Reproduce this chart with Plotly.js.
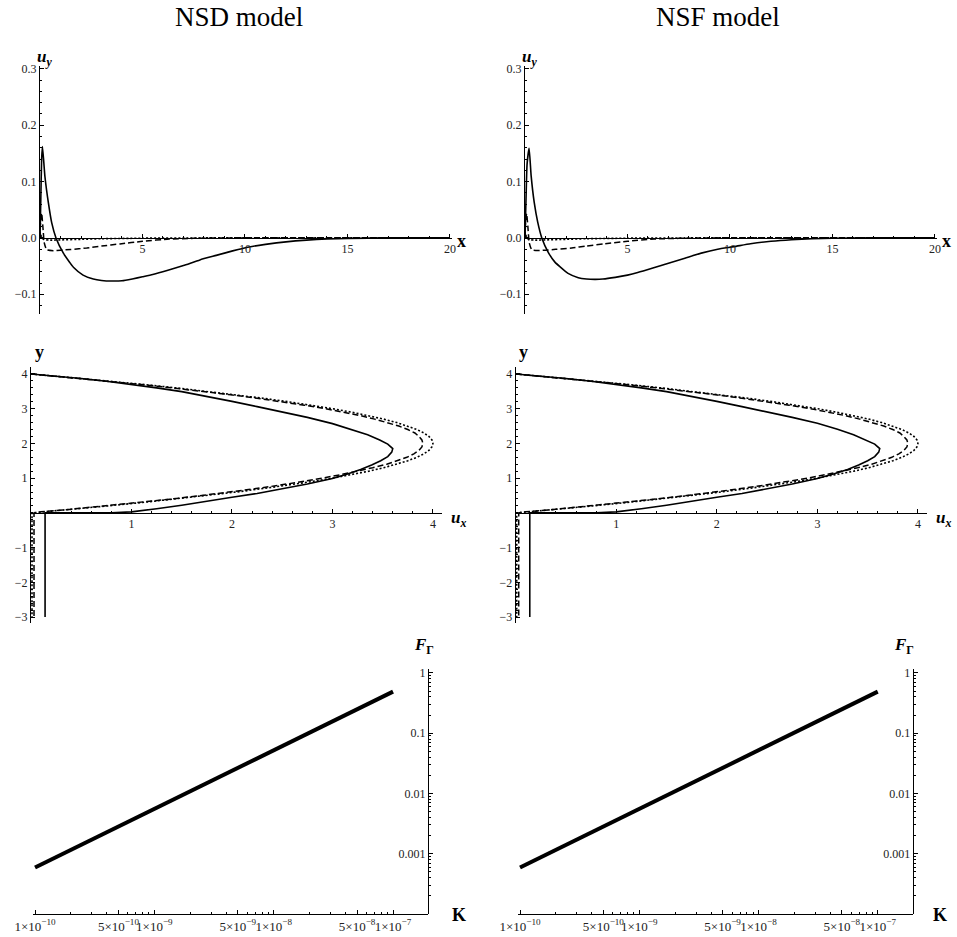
<!DOCTYPE html>
<html>
<head>
<meta charset="utf-8">
<script src="https://cdn.plot.ly/plotly-3.0.1.min.js"></script>
<style>html,body{margin:0;padding:0;background:#fff;}#chart{width:957px;height:937px;}</style>
</head>
<body>
<div id="chart"></div>
<script>
// ---------- DATA ----------
// Row 1: u_y(x)  (NSD left, NSF right)
const nsdUySolidX = [0,0.04,0.08,0.12,0.24,0.41,0.57,0.78,1.14,1.46,1.63,2.1,2.6,3.0,3.5,4.0,4.5,5.0,5.5,6.2,7.0,7.8,8.6,9.4,10.2,11.0,12.0,13.0,14.0,15.0,17.0,20.0];
const nsdUySolidY = [0,0.07,0.14,0.162,0.109,0.062,0.027,0,-0.027,-0.044,-0.052,-0.066,-0.073,-0.0755,-0.0765,-0.076,-0.0728,-0.069,-0.065,-0.058,-0.049,-0.039,-0.031,-0.023,-0.016,-0.0115,-0.007,-0.004,-0.002,-0.001,0,0];
const nsdUyDashX = [0,0.03,0.08,0.14,0.21,0.33,0.65,1.0,1.5,2.28,3.0,3.9,5.0,6.3,7.5,9.0,20.0];
const nsdUyDashY = [0,0.03,0.044,0.02,-0.009,-0.021,-0.0226,-0.0218,-0.0205,-0.018,-0.0145,-0.0107,-0.006,-0.002,-0.0008,0,0];
const nsdUyDotX = [0,0.02,0.05,0.1,0.2,0.5,1,2,3,5,8,20];
const nsdUyDotY = [0,0.006,0.004,0,-0.003,-0.004,-0.0035,-0.0025,-0.0015,-0.0005,0,0];

const nsfUySolidX = [0,0.05,0.1,0.2,0.3,0.45,0.62,0.82,1.14,1.46,1.7,2.1,2.6,3.0,3.4,3.8,4.4,5.0,5.5,6.2,7.0,7.8,8.6,9.4,10.2,11.0,12.0,13.0,14.0,15.0,17.0,20.0];
const nsfUySolidY = [0,0.07,0.13,0.159,0.11,0.063,0.028,0,-0.026,-0.043,-0.051,-0.063,-0.0705,-0.0728,-0.0735,-0.073,-0.070,-0.066,-0.0615,-0.054,-0.045,-0.036,-0.027,-0.020,-0.0155,-0.0105,-0.006,-0.0032,-0.0015,-0.0007,0,0];
const nsfUyDashX = [0,0.03,0.08,0.14,0.21,0.33,0.65,1.0,1.5,2.28,3.0,3.9,5.0,6.3,7.5,9.0,20.0];
const nsfUyDashY = [0,0.03,0.043,0.02,-0.009,-0.021,-0.0225,-0.0217,-0.0203,-0.0178,-0.0143,-0.0105,-0.006,-0.002,-0.0008,0,0];
const nsfUyDotX = [0,0.02,0.05,0.1,0.2,0.5,1,2,3,5,8,20];
const nsfUyDotY = [0,0.006,0.004,0,-0.003,-0.004,-0.0035,-0.0025,-0.0015,-0.0005,0,0];

// Row 2: velocity profile u_x(y)
const nsdUxSolidX = [0,0.25,0.5,0.75,1.0,1.25,1.5,1.75,2.0,2.25,2.5,2.75,3.0,3.2,3.35,3.47,3.55,3.6,3.59,3.55,3.48,3.39,3.28,3.15,3.0,2.75,2.5,2.25,2.0,1.75,1.5,1.25,1.0,0.8,0.5,0.14,0.14];
const nsdUxSolidY = [4.0,3.94,3.87,3.79,3.7,3.6,3.49,3.36,3.21,3.06,2.91,2.75,2.57,2.4,2.25,2.1,1.98,1.85,1.75,1.62,1.5,1.38,1.25,1.12,0.99,0.83,0.69,0.56,0.45,0.33,0.22,0.12,0.03,0.005,0.0,0.0,-3.0];
const nsdUxDashX = [0,0.38,0.74,1.08,1.40,1.71,1.99,2.25,2.50,2.72,2.93,3.11,3.28,3.42,3.55,3.66,3.75,3.82,3.86,3.89,3.90,3.89,3.86,3.81,3.74,3.65,3.54,3.40,3.25,3.08,2.90,2.70,2.48,2.24,1.98,1.70,1.40,1.08,0.74,0.38,0.10,0.03,0.03];
const nsdUxDashY = [4.0,3.9,3.8,3.7,3.6,3.5,3.4,3.3,3.2,3.1,3.0,2.9,2.8,2.7,2.6,2.5,2.4,2.3,2.2,2.1,2.0,1.9,1.8,1.7,1.6,1.5,1.4,1.3,1.2,1.1,1.0,0.9,0.8,0.7,0.6,0.5,0.4,0.3,0.2,0.1,0.03,0.0,-3.0];
const nsdUxDotX = [0,0.39,0.76,1.11,1.44,1.75,2.04,2.31,2.56,2.79,3.0,3.19,3.36,3.51,3.64,3.75,3.84,3.91,3.96,3.99,4.0,3.99,3.96,3.91,3.84,3.75,3.64,3.51,3.36,3.19,3.0,2.79,2.56,2.31,2.04,1.75,1.44,1.11,0.76,0.39,0.1,0.01,0.01];
const nsdUxDotY = [4.0,3.9,3.8,3.7,3.6,3.5,3.4,3.3,3.2,3.1,3.0,2.9,2.8,2.7,2.6,2.5,2.4,2.3,2.2,2.1,2.0,1.9,1.8,1.7,1.6,1.5,1.4,1.3,1.2,1.1,1.0,0.9,0.8,0.7,0.6,0.5,0.4,0.3,0.2,0.1,0.025,0.0,-3.0];

const nsfUxSolidX = [0,0.25,0.5,0.75,1.0,1.25,1.5,1.75,2.0,2.25,2.5,2.75,3.0,3.2,3.36,3.48,3.57,3.62,3.61,3.57,3.5,3.41,3.3,3.16,3.0,2.75,2.5,2.25,2.0,1.75,1.5,1.25,1.0,0.8,0.5,0.14,0.14];
const nsfUxSolidY = [4.0,3.94,3.87,3.79,3.7,3.6,3.49,3.36,3.21,3.06,2.91,2.75,2.58,2.41,2.25,2.1,1.98,1.85,1.75,1.62,1.5,1.38,1.25,1.12,0.99,0.83,0.69,0.56,0.45,0.33,0.22,0.12,0.03,0.005,0.0,0.0,-3.0];
const nsfUxDashX = [0,0.38,0.74,1.08,1.40,1.71,1.99,2.25,2.50,2.72,2.93,3.11,3.28,3.42,3.55,3.66,3.75,3.82,3.86,3.89,3.90,3.89,3.86,3.81,3.74,3.65,3.54,3.40,3.25,3.08,2.90,2.70,2.48,2.24,1.98,1.70,1.40,1.08,0.74,0.38,0.10,0.03,0.03];
const nsfUxDashY = [4.0,3.9,3.8,3.7,3.6,3.5,3.4,3.3,3.2,3.1,3.0,2.9,2.8,2.7,2.6,2.5,2.4,2.3,2.2,2.1,2.0,1.9,1.8,1.7,1.6,1.5,1.4,1.3,1.2,1.1,1.0,0.9,0.8,0.7,0.6,0.5,0.4,0.3,0.2,0.1,0.03,0.0,-3.0];
const nsfUxDotX = [0,0.39,0.76,1.11,1.44,1.75,2.04,2.31,2.56,2.79,3.0,3.19,3.36,3.51,3.64,3.75,3.84,3.91,3.96,3.99,4.0,3.99,3.96,3.91,3.84,3.75,3.64,3.51,3.36,3.19,3.0,2.79,2.56,2.31,2.04,1.75,1.44,1.11,0.76,0.39,0.1,0.01,0.01];
const nsfUxDotY = [4.0,3.9,3.8,3.7,3.6,3.5,3.4,3.3,3.2,3.1,3.0,2.9,2.8,2.7,2.6,2.5,2.4,2.3,2.2,2.1,2.0,1.9,1.8,1.7,1.6,1.5,1.4,1.3,1.2,1.1,1.0,0.9,0.8,0.7,0.6,0.5,0.4,0.3,0.2,0.1,0.025,0.0,-3.0];

// Row 3: F_Gamma(K), log-log
const kValues = [1e-10,2e-10,5e-10,1e-9,2e-9,5e-9,1e-8,2e-8,5e-8,1e-7];
const nsdF = [5.9e-4,1.16e-3,2.85e-3,5.6e-3,0.011,0.027,0.053,0.104,0.25,0.49];
const nsfF = [5.9e-4,1.16e-3,2.85e-3,5.6e-3,0.011,0.027,0.053,0.104,0.25,0.49];

// Tick labels
const uyTickVals = [-0.1,0,0.1,0.2,0.3];
const uyTickText = ['\u22120.1','0.0','0.1','0.2','0.3'];
const xTickVals = [5,10,15,20];
const uxTickVals = [1,2,3,4];
const yTickVals = [-3,-2,-1,1,2,3,4];
const yTickText = ['\u22123','\u22122','\u22121','1','2','3','4'];
const kTickVals = [1e-10,5e-10,1e-9,5e-9,1e-8,5e-8,1e-7];
const kTickText = ['1\u00d710<sup>\u221210</sup>','5\u00d710<sup>\u221210</sup>','1\u00d710<sup>\u22129</sup>','5\u00d710<sup>\u22129</sup>','1\u00d710<sup>\u22128</sup>','5\u00d710<sup>\u22128</sup>','1\u00d710<sup>\u22127</sup>'];
const fTickVals = [0.001,0.01,0.1,1];
const fTickText = ['0.001','0.01','0.1','1'];
const columnTitles = ['NSD model','NSF model'];

// ---------- LAYOUT HELPERS ----------
const W = 957, H = 937;
const fx = p => p / W;
const fy = p => 1 - p / H;
const zeroPos = (dom, rng) => dom[0] + (0 - rng[0]) / (rng[1] - rng[0]) * (dom[1] - dom[0]);
const serif = 'Liberation Serif, Times New Roman, serif';
const tickFont = {family:serif, size:12, color:'#222'};
const base = {showline:true, linecolor:'#000', linewidth:1, showgrid:false, zeroline:false,
  ticks:'inside', ticklen:4, tickwidth:1, tickcolor:'#000', tickfont:tickFont, tickangle:0, fixedrange:true};
const minorOf = (o) => Object.assign({ticks:'inside', ticklen:2, tickwidth:1, tickcolor:'#000', showgrid:false}, o);

function logMinor(lo, hi){
  const v = [];
  for (let e = lo; e <= hi; e++) for (let m = 2; m <= 9; m++) v.push(m * Math.pow(10, e));
  return v;
}

const layout = {width:W, height:H, margin:{l:0,r:0,t:0,b:0}, paper_bgcolor:'#fff', plot_bgcolor:'rgba(0,0,0,0)',
  showlegend:false, annotations:[]};

const cols = [
  {top:[40,452], mid:[31,442], bot:[33,428]},
  {top:[525,937], mid:[515.7,927], bot:[518,912.7]}
];
const rowsY = {top:[314,66], mid:[623,367], bot:[914,669]};
const topYR = [-0.135,0.305], topXR = [0,20.1];
const midYR = [-3.17,4.2], midXR = [0,4.09];
const botXR = [-10.017, -6.707], botYR = [-4, 0.066];

const traces = [];
const sets = [
  {uy:[[nsdUySolidX,nsdUySolidY],[nsdUyDashX,nsdUyDashY],[nsdUyDotX,nsdUyDotY]],
   ux:[[nsdUxSolidX,nsdUxSolidY],[nsdUxDashX,nsdUxDashY],[nsdUxDotX,nsdUxDotY]], f:nsdF},
  {uy:[[nsfUySolidX,nsfUySolidY],[nsfUyDashX,nsfUyDashY],[nsfUyDotX,nsfUyDotY]],
   ux:[[nsfUxSolidX,nsfUxSolidY],[nsfUxDashX,nsfUxDashY],[nsfUxDotX,nsfUxDotY]], f:nsfF}
];
const styles = [{dash:'solid',width:1.6},{dash:'6px,3px',width:1.5},{dash:'2px,2px',width:1.6}];

sets.forEach((s, c) => {
  const n0 = c * 3;
  const ids = [n0+1, n0+2, n0+3];
  const ax = i => (i === 1 ? '' : String(i));
  // --- top ---
  const tX = [fx(cols[c].top[0]), fx(cols[c].top[1])];
  const tY = [fy(rowsY.top[0]), fy(rowsY.top[1])];
  layout['xaxis'+ax(ids[0])] = Object.assign({}, base, {domain:tX, range:topXR, anchor:'free',
    position: zeroPos(tY, topYR), tickmode:'array', tickvals:xTickVals,
    minor: minorOf({tickmode:'linear', tick0:0, dtick:1})});
  layout['yaxis'+ax(ids[0])] = Object.assign({}, base, {domain:tY, range:topYR, anchor:'x'+ax(ids[0]),
    tickmode:'array', tickvals:uyTickVals, ticktext:uyTickText,
    minor: minorOf({tickmode:'linear', tick0:0, dtick:0.02})});
  s.uy.forEach((d, k) => traces.push({x:d[0], y:d[1], type:'scatter', mode:'lines',
    xaxis:'x'+ax(ids[0]), yaxis:'y'+ax(ids[0]), line:{color:'#000', width:styles[k].width, dash:styles[k].dash, shape:'spline', smoothing:0.5}}));
  // --- middle ---
  const mX = [fx(cols[c].mid[0]), fx(cols[c].mid[1])];
  const mY = [fy(rowsY.mid[0]), fy(rowsY.mid[1])];
  layout['xaxis'+ax(ids[1])] = Object.assign({}, base, {domain:mX, range:midXR, anchor:'free',
    position: zeroPos(mY, midYR), tickmode:'array', tickvals:uxTickVals,
    minor: minorOf({tickmode:'linear', tick0:0, dtick:0.2})});
  layout['yaxis'+ax(ids[1])] = Object.assign({}, base, {domain:mY, range:midYR, anchor:'x'+ax(ids[1]),
    tickmode:'array', tickvals:yTickVals, ticktext:yTickText,
    minor: minorOf({tickmode:'linear', tick0:0, dtick:0.2})});
  s.ux.forEach((d, k) => traces.push({x:d[0], y:d[1], type:'scatter', mode:'lines',
    xaxis:'x'+ax(ids[1]), yaxis:'y'+ax(ids[1]), line:{color:'#000', width:styles[k].width, dash:styles[k].dash}}));
  // --- bottom ---
  const bX = [fx(cols[c].bot[0]), fx(cols[c].bot[1])];
  const bY = [fy(rowsY.bot[0]), fy(rowsY.bot[1])];
  layout['xaxis'+ax(ids[2])] = Object.assign({}, base, {domain:bX, range:botXR, type:'log', anchor:'y'+ax(ids[2]),
    tickmode:'array', tickvals:kTickVals, ticktext:kTickText, tickfont:Object.assign({}, tickFont, {size:13}),
    minor: minorOf({tickmode:'array', tickvals:logMinor(-10,-7)})});
  layout['yaxis'+ax(ids[2])] = Object.assign({}, base, {domain:bY, range:botYR, type:'log', anchor:'free',
    position: bX[1], side:'left', tickmode:'array', tickvals:fTickVals, ticktext:fTickText,
    minor: minorOf({tickmode:'array', tickvals:logMinor(-4,0)})});
  traces.push({x:kValues, y:s.f, type:'scatter', mode:'lines', xaxis:'x'+ax(ids[2]), yaxis:'y'+ax(ids[2]),
    line:{color:'#000', width:4}});
});

// ---------- ANNOTATIONS ----------
const lblFont = {family:serif, size:16, color:'#000'};
function ann(text, px, py, size){
  layout.annotations.push({text:text, xref:'paper', yref:'paper', x:fx(px), y:fy(py),
    xanchor:'center', yanchor:'middle', showarrow:false, font:Object.assign({}, lblFont, size?{size:size}:{})});
}
ann(columnTitles[0], 239, 17, 27);
ann(columnTitles[1], 718, 17, 27);
const labelPos = [
  {uy:[44,58], x:[461,241], y:[39,352], ux:[458,519], F:[424,646], K:[459,915]},
  {uy:[529,58], x:[946,241], y:[523,352], ux:[943,519], F:[904,646], K:[940,915]}
];
labelPos.forEach(p => {
  ann('<b><i>u</i></b><sub><b><i>y</i></b></sub>', p.uy[0], p.uy[1], 17);
  ann('<b>x</b>', p.x[0], p.x[1], 18);
  ann('<b>y</b>', p.y[0], p.y[1], 18);
  ann('<b><i>u</i></b><sub><b><i>x</i></b></sub>', p.ux[0], p.ux[1], 17);
  ann('<b><i>F</i></b><sub><b>\u0393</b></sub>', p.F[0], p.F[1], 17);
  ann('<b>K</b>', p.K[0], p.K[1], 18);
});

Plotly.newPlot('chart', traces, layout, {staticPlot:true, displayModeBar:false});
</script>
</body>
</html>
